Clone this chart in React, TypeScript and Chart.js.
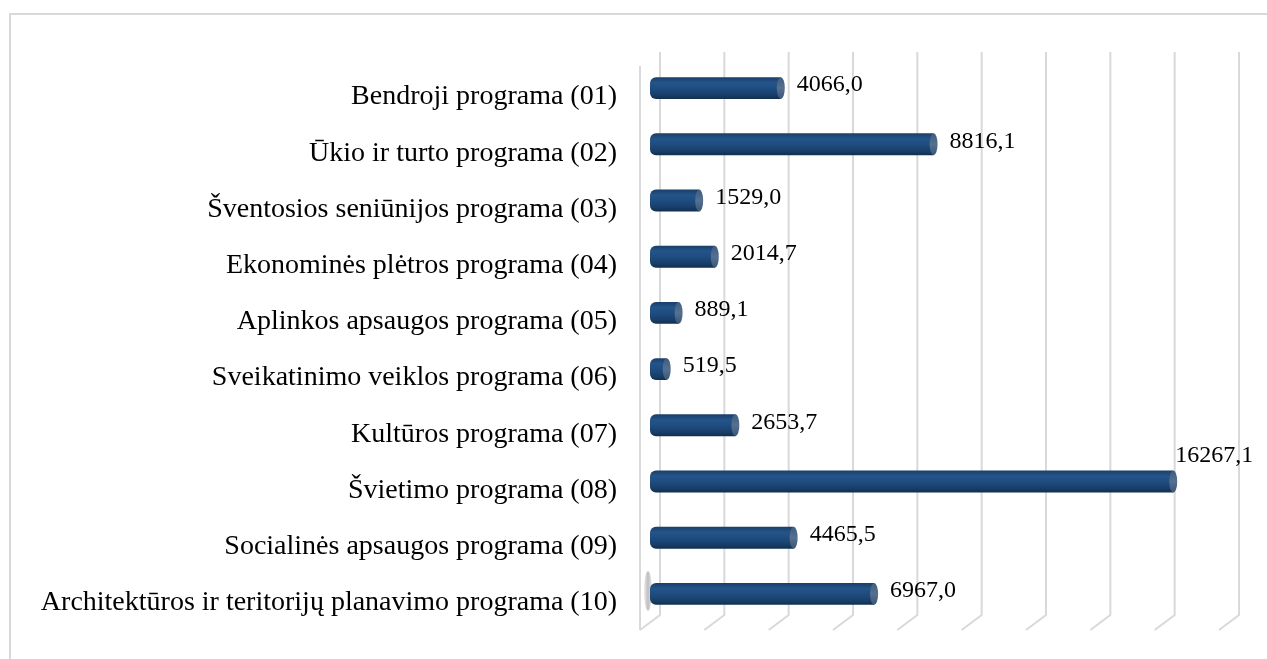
import React, { useEffect, useRef } from "react";
import { Chart, registerables } from "chart.js";

Chart.register(...registerables);

const categories = [
  "Bendroji programa (01)",
  "Ūkio ir turto programa (02)",
  "Šventosios seniūnijos programa (03)",
  "Ekonominės plėtros programa (04)",
  "Aplinkos apsaugos programa (05)",
  "Sveikatinimo veiklos programa (06)",
  "Kultūros programa (07)",
  "Švietimo programa (08)",
  "Socialinės apsaugos programa (09)",
  "Architektūros ir teritorijų planavimo programa (10)",
];

const values = [4066.0, 8816.1, 1529.0, 2014.7, 889.1, 519.5, 2653.7, 16267.1, 4465.5, 6967.0];

const axisMin = 0;
const axisMax = 18000;
const axisStep = 2000;

const FONT = '"Liberation Serif", "Times New Roman", serif';
const GRID = "#d9d9d9";
const DEPTH_X = 20;
const DEPTH_Y = 15;

const fmt = (v: number) => v.toFixed(1).replace(".", ",");

const framePlugin = {
  id: "frame3d",
  beforeDraw(chart: any) {
    const ctx = chart.ctx;
    ctx.save();
    ctx.fillStyle = "#ffffff";
    ctx.fillRect(0, 0, chart.width, chart.height);
    ctx.strokeStyle = GRID;
    ctx.lineWidth = 2;
    ctx.strokeRect(10, 14, chart.width + 40, chart.height + 40);
    ctx.restore();
  },
  beforeDatasetsDraw(chart: any) {
    const ctx = chart.ctx;
    const xs = chart.scales.x;
    const { top, bottom } = chart.chartArea;
    ctx.save();
    ctx.strokeStyle = GRID;
    ctx.lineWidth = 2;
    for (let v = axisMin; v <= axisMax; v += axisStep) {
      const back = xs.getPixelForValue(v) + DEPTH_X / 2;
      const front = back - DEPTH_X;
      ctx.beginPath();
      ctx.moveTo(back, top - 8);
      ctx.lineTo(back, bottom - 7);
      ctx.lineTo(front, bottom - 7 + DEPTH_Y);
      ctx.stroke();
    }
    const f0 = xs.getPixelForValue(axisMin) - DEPTH_X / 2;
    ctx.beginPath();
    ctx.moveTo(f0, top + 6);
    ctx.lineTo(f0, bottom - 7 + DEPTH_Y);
    ctx.stroke();
    const meta = chart.getDatasetMeta(0);
    const last: any = meta.data[meta.data.length - 1];
    if (last && isFinite(last.y)) {
      const g = ctx.createLinearGradient(f0 + 2, 0, f0 + 14, 0);
      g.addColorStop(0, "rgba(120,120,120,0)");
      g.addColorStop(0.5, "rgba(110,110,110,0.45)");
      g.addColorStop(1, "rgba(120,120,120,0)");
      ctx.fillStyle = g;
      ctx.beginPath();
      ctx.ellipse(f0 + 8, last.y - 3, 4, Math.abs(last.height) * 0.9, 0, 0, Math.PI * 2);
      ctx.fill();
    }
    ctx.restore();
  },
  afterDatasetsDraw(chart: any) {
    const ctx = chart.ctx;
    const meta = chart.getDatasetMeta(0);
    ctx.save();
    meta.data.forEach((bar: any, i: number) => {
      const h = Math.abs(bar.height);
      if (!isFinite(bar.x) || !isFinite(bar.y)) return;
      const cg = ctx.createLinearGradient(0, bar.y - h / 2, 0, bar.y + h / 2);
      cg.addColorStop(0, "#3f5d80");
      cg.addColorStop(0.5, "#56708f");
      cg.addColorStop(1, "#3a5677");
      ctx.fillStyle = cg;
      ctx.beginPath();
      ctx.ellipse(bar.x, bar.y, 4, h / 2, 0, 0, Math.PI * 2);
      ctx.fill();

      const text = fmt(values[i]);
      ctx.font = `24px ${FONT}`;
      ctx.fillStyle = "#000000";
      ctx.textBaseline = "middle";
      ctx.textAlign = "left";
      const w = ctx.measureText(text).width;
      let lx = bar.x + 16;
      let ly = bar.y - 3;
      if (lx + w > chart.width - 1) {
        lx = bar.x + 2;
        ly = bar.y - 26;
      }
      ctx.fillText(text, lx, ly);
    });
    ctx.restore();
  },
};

export default function App() {
  const ref = useRef<HTMLCanvasElement | null>(null);

  useEffect(() => {
    if (!ref.current) return;
    const chart = new Chart(ref.current, {
      type: "bar",
      data: {
        labels: categories,
        datasets: [
          {
            data: values,
            backgroundColor: (c: any) => {
              const ch = c.chart;
              const ys = ch.scales && ch.scales.y;
              if (!ys || c.type !== "data" || c.dataIndex === undefined) return "#1f4e80";
              const cy = ys.getPixelForValue(c.dataIndex);
              if (!isFinite(cy)) return "#1f4e80";
              const hh = 11;
              const g = ch.ctx.createLinearGradient(0, cy - hh, 0, cy + hh);
              g.addColorStop(0, "#1a3e66");
              g.addColorStop(0.25, "#24548a");
              g.addColorStop(0.5, "#1f4d80");
              g.addColorStop(0.8, "#193f6a");
              g.addColorStop(1, "#122e4f");
              return g;
            },
            borderWidth: 0,
            borderSkipped: false,
            borderRadius: { topLeft: 6, bottomLeft: 6, topRight: 0, bottomRight: 0 },
            barPercentage: 0.39,
            categoryPercentage: 1,
          },
        ],
      },
      options: {
        indexAxis: "y",
        responsive: false,
        animation: false,
        layout: { padding: { top: 60, bottom: 37, right: 38, left: 0 } },
        plugins: {
          legend: { display: false },
          tooltip: { enabled: false },
          title: { display: false },
        },
        scales: {
          x: {
            display: false,
            min: axisMin,
            max: axisMax,
            ticks: { stepSize: axisStep },
          },
          y: {
            grid: { display: false, drawTicks: false },
            border: { display: false },
            afterFit: (scale: any) => {
              scale.width = 650;
              scale.paddingTop = 0;
              scale.paddingBottom = 0;
            },
            ticks: {
              color: "#000000",
              padding: 33,
              labelOffset: 9,
              font: { family: FONT, size: 28 },
            },
          },
        },
      },
      plugins: [framePlugin],
    });
    return () => chart.destroy();
  }, []);

  return (
    <div style={{ position: "fixed", left: 0, top: 0, width: 1267, height: 659, overflow: "hidden", background: "#fff" }}>
      <canvas ref={ref} width={1267} height={659} style={{ display: "block" }} />
    </div>
  );
}
